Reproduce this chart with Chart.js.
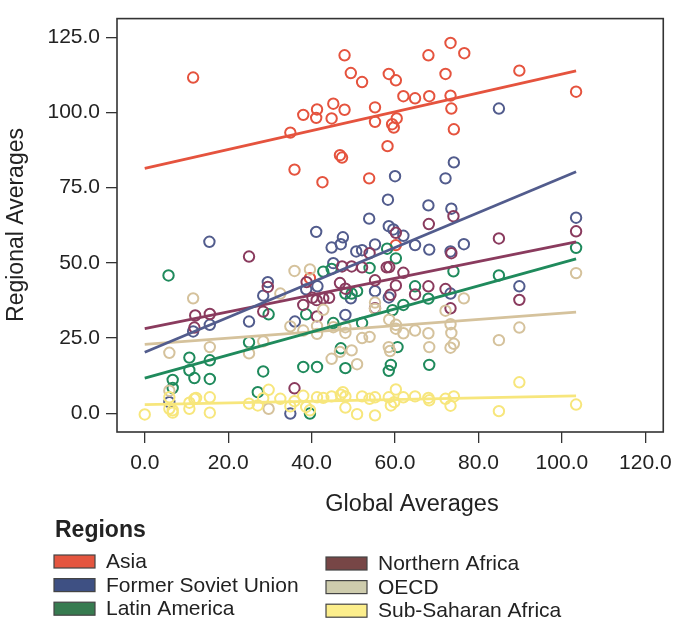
<!DOCTYPE html>
<html>
<head>
<meta charset="utf-8">
<script src="https://cdn.jsdelivr.net/npm/chart.js@4/dist/chart.umd.min.js"></script>
<style>
  html, body { margin: 0; padding: 0; background: #fff; }
  #wrap { position: relative; width: 680px; height: 623px; }
</style>
</head>
<body>
<div id="wrap"><canvas id="c" width="680" height="623"></canvas></div>
<script>
// Region names, in legend order
const regions = ['Asia', 'Former Soviet Union', 'Latin America', 'Northern Africa', 'OECD', 'Sub-Saharan Africa'];

// Observations per region: [global average, regional average]
const asia = [[11.6,111.6],[47.9,119.0],[49.4,113.1],[52.1,110.1],[58.5,112.8],[45.2,102.9],[41.3,101.0],[38.0,99.2],
  [41.1,98.2],[44.8,98.0],[47.9,100.9],[55.2,101.7],[55.2,96.9],[34.9,93.3],[59.3,96.1],[58.2,88.8],[46.8,85.8],
  [47.3,85.0],[60.2,110.7],[73.3,123.1],[68.0,119.0],[76.6,119.7],[72.1,112.8],[89.8,113.9],[62.0,105.4],[64.8,104.7],
  [68.2,105.4],[73.3,105.6],[73.5,101.3],[103.4,106.9],[60.4,98.0],[59.7,95.0],[74.1,94.4],[35.9,81.0],[42.6,76.8],
  [53.8,78.1],[39.6,44.9],[60.2,55.9]];
const fsu = [[84.9,101.3],[74.1,83.4],[15.5,57.0],[41.1,60.3],[53.8,64.7],[58.3,71.0],[60.0,78.8],[58.5,62.2],
  [47.5,58.5],[47.0,56.2],[44.8,55.1],[50.7,53.8],[52.1,54.2],[55.2,56.1],[45.2,49.9],[29.5,43.6],[41.4,42.2],
  [38.7,41.2],[28.4,39.1],[55.2,40.6],[58.5,38.5],[72.1,78.1],[68.0,69.1],[73.5,68.0],[59.6,61.1],[62.0,59.0],
  [64.8,55.9],[68.2,54.4],[76.5,56.2],[73.3,53.8],[103.4,65.0],[89.8,42.2],[73.3,39.8],[25.0,30.5],[15.6,29.4],
  [11.6,27.2],[36.0,30.5],[48.1,32.7],[5.9,3.7],[34.9,-0.1],[49.4,38.2]];
const latinAmerica = [[5.7,45.8],[42.8,47.1],[44.8,48.0],[53.9,48.3],[58.1,54.7],[48.1,39.8],[49.6,39.8],[50.9,40.6],
  [103.4,55.0],[60.2,51.5],[74.0,47.2],[84.9,45.8],[64.8,42.2],[68.0,38.1],[10.7,18.5],[15.6,17.6],[10.7,14.3],
  [11.9,11.7],[15.6,11.4],[6.7,11.1],[6.7,8.4],[25.0,23.6],[29.7,32.9],[28.4,13.9],[27.1,7.0],[38.0,15.4],[41.3,15.4],
  [47.0,21.6],[48.1,15.0],[39.6,-0.1],[45.2,30.0],[52.1,30.0],[38.7,32.9],[58.5,14.1],[60.6,22.0],[59.0,16.1],
  [68.2,16.1],[62.0,36.0],[59.4,34.3]];
const northernAfrica = [[25.0,52.1],[53.9,53.2],[58.0,48.5],[52.1,48.5],[49.6,48.8],[47.3,48.8],[29.5,42.0],[38.8,43.6],
  [46.8,43.3],[55.2,44.2],[48.1,41.4],[40.2,38.4],[44.2,38.4],[68.1,62.9],[74.0,65.5],[60.2,60.0],[84.9,58.1],
  [103.4,60.5],[73.5,53.2],[62.0,46.7],[58.6,48.6],[68.0,42.2],[72.1,41.3],[64.8,39.5],[60.2,42.5],[58.9,39.4],
  [89.8,37.7],[12.1,32.5],[15.6,33.0],[11.9,28.5],[28.4,33.8],[38.0,36.0],[41.2,37.6],[42.8,38.2],[41.3,32.2],
  [35.9,8.3],[55.2,34.9],[73.3,34.9]];
const oecd = [[35.9,47.3],[39.6,47.8],[32.5,39.8],[11.6,38.2],[55.2,36.8],[103.4,46.6],[76.5,38.2],[5.9,20.1],
  [15.6,22.0],[25.0,19.9],[28.4,23.9],[34.9,28.9],[38.0,27.5],[41.3,26.4],[44.8,18.1],[46.8,20.4],[49.6,20.9],
  [50.9,16.3],[52.1,25.0],[53.9,25.4],[48.1,28.6],[48.1,26.7],[45.2,28.6],[41.3,29.0],[58.5,22.0],[58.8,20.7],
  [55.2,34.7],[5.9,7.5],[29.7,1.5],[42.8,34.4],[72.1,34.1],[73.3,29.6],[73.5,26.7],[68.0,26.6],[64.8,27.5],
  [62.0,26.6],[60.2,29.4],[60.2,28.1],[58.6,31.1],[68.2,22.0],[73.3,21.8],[74.1,23.1],[84.9,24.3],[89.8,28.5]];
const subSaharanAfrica = [[0.0,-0.4],[5.9,5.3],[5.9,1.5],[6.7,1.0],[6.7,0.2],[10.7,1.5],[10.7,3.5],[11.9,4.8],
  [12.3,5.1],[15.6,5.3],[15.6,0.2],[25.0,3.2],[27.1,2.6],[29.7,7.8],[28.4,5.0],[32.5,4.8],[34.9,2.3],[35.9,4.0],
  [38.0,5.8],[38.7,2.1],[39.6,1.0],[41.3,5.3],[42.8,5.1],[44.8,5.6],[47.0,6.2],[47.5,7.0],[48.1,5.6],[48.1,1.9],
  [50.9,-0.3],[52.1,5.6],[53.9,4.8],[55.2,5.3],[55.2,-0.7],[58.5,5.3],[59.0,2.6],[60.2,7.9],[59.8,3.7],[62.0,5.3],
  [64.8,5.6],[68.0,5.1],[68.2,4.3],[72.1,4.8],[74.1,5.6],[73.3,2.5],[84.9,0.7],[89.8,10.3],[103.4,2.9]];
const observations = [asia, fsu, latinAmerica, northernAfrica, oecd, subSaharanAfrica];

// Fitted trend per region: value at the low and high end of the global range
const fitRange = [0.0, 103.4];
const fitStart = [81.4, 20.3, 11.7, 28.1, 22.9, 2.9];
const fitEnd   = [113.8, 80.3, 51.3, 57.0, 33.6, 5.8];

// Axis ticks
const xTicks = [0, 20, 40, 60, 80, 100, 120];
const yTicks = [0, 25, 50, 75, 100, 125];

// Colours
const markColors   = ['#E5533E', '#525C8D', '#1F8A5C', '#8A3B5E', '#D5C29C', '#F7E67C'];
const swatchColors = ['#E4553F', '#3E5083', '#377B50', '#774646', '#CECCAD', '#FCEE8C'];

const FONT = "'Liberation Sans', Arial, Helvetica, sans-serif";

const datasets = [];
regions.forEach((name, i) => {
  datasets.push({
    type: 'line',
    label: name + ' trend',
    data: [{x: fitRange[0], y: fitStart[i]}, {x: fitRange[1], y: fitEnd[i]}],
    borderColor: markColors[i],
    borderWidth: 2.8,
    pointRadius: 0,
    fill: false,
    order: 0
  });
});
regions.forEach((name, i) => {
  datasets.push({
    type: 'scatter',
    label: name,
    data: observations[i].map(p => ({x: p[0], y: p[1]})),
    pointStyle: 'circle',
    pointRadius: 5.2,
    pointBorderWidth: 2,
    pointBorderColor: markColors[i],
    pointBackgroundColor: 'rgba(0,0,0,0)',
    showLine: false,
    order: 1 + (regions.length - i)
  });
});

// Frame around the plot, axis titles and the region key
const decorations = {
  id: 'decorations',
  afterDraw(chart) {
    const {ctx, chartArea: a} = chart;
    ctx.save();
    ctx.strokeStyle = '#333';
    ctx.lineWidth = 1.6;
    ctx.strokeRect(a.left, a.top, a.right - a.left, a.bottom - a.top);

    ctx.fillStyle = '#222';
    ctx.textBaseline = 'middle';
    ctx.textAlign = 'center';
    ctx.font = '23.5px ' + FONT;
    ctx.fillText('Global Averages', 412, 505);

    ctx.save();
    ctx.translate(17, 225);
    ctx.rotate(-Math.PI / 2);
    ctx.font = '23px ' + FONT;
    ctx.fillText('Regional Averages', 0, 0);
    ctx.restore();

    ctx.textAlign = 'left';
    ctx.font = 'bold 23px ' + FONT;
    ctx.fillText('Regions', 55, 531);

    ctx.font = '21px ' + FONT;
    const cols = [{sx: 54, tx: 106, y0: 561.5}, {sx: 326, tx: 378, y0: 563.5}];
    regions.forEach((name, i) => {
      const c = cols[Math.floor(i / 3)];
      const y = c.y0 + (i % 3) * 23.6;
      ctx.fillStyle = swatchColors[i];
      ctx.fillRect(c.sx, y - 6.5, 41, 13);
      ctx.strokeStyle = '#444';
      ctx.lineWidth = 1.2;
      ctx.strokeRect(c.sx, y - 6.5, 41, 13);
      ctx.fillStyle = '#222';
      ctx.fillText(name, c.tx, y + 1);
    });
    ctx.restore();
  }
};

new Chart(document.getElementById('c'), {
  data: {datasets},
  options: {
    responsive: false,
    animation: false,
    events: [],
    layout: {padding: {left: 0, top: 13, right: 12, bottom: 0}},
    plugins: {legend: {display: false}, tooltip: {enabled: false}},
    scales: {
      x: {
        type: 'linear',
        min: -6.65,
        max: 124.3,
        afterFit: s => { s.height = 191; },
        afterBuildTicks: s => { s.ticks = xTicks.map(v => ({value: v})); },
        grid: {drawOnChartArea: false, drawTicks: true, tickLength: 11, color: '#333', lineWidth: 1.3},
        border: {display: false},
        ticks: {
          color: '#222',
          padding: 8,
          maxRotation: 0,
          font: {family: FONT, size: 21},
          callback: v => v.toFixed(1)
        }
      },
      y: {
        type: 'linear',
        min: -6.23,
        max: 131.2,
        afterFit: s => { s.width = 117; },
        afterBuildTicks: s => { s.ticks = yTicks.map(v => ({value: v})); },
        grid: {drawOnChartArea: false, drawTicks: true, tickLength: 11, color: '#333', lineWidth: 1.3},
        border: {display: false},
        ticks: {
          color: '#222',
          padding: 6,
          font: {family: FONT, size: 21},
          callback: v => v.toFixed(1)
        }
      }
    }
  },
  plugins: [decorations]
});
</script>
</body>
</html>
